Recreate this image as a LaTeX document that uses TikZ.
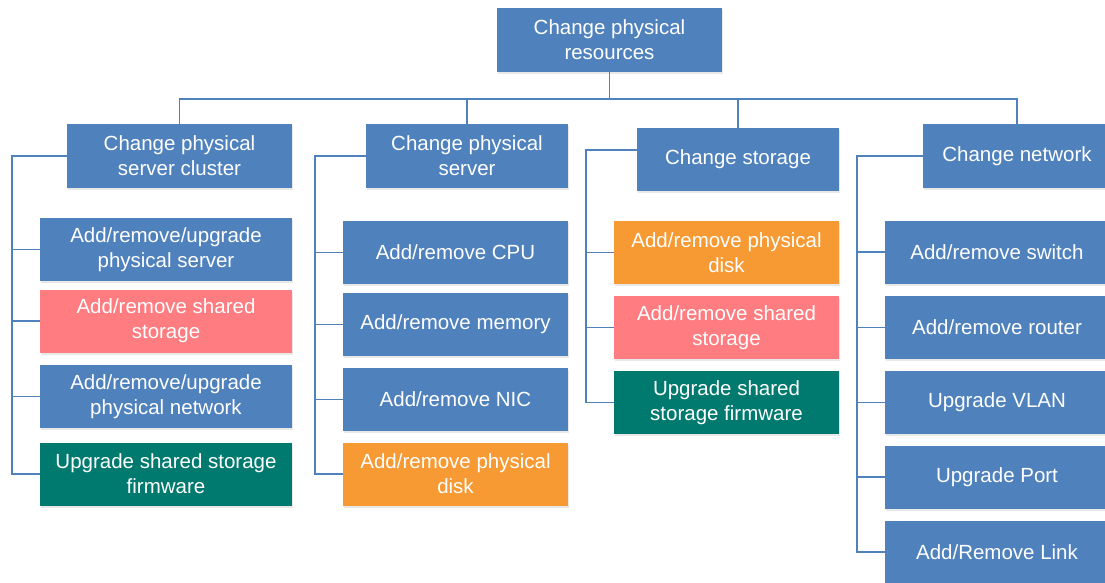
\documentclass[tikz,border=0pt]{standalone}
\usepackage{fontspec}
\setmainfont{Liberation Sans}
\usetikzlibrary{shadows}
\definecolor{boxblue}{HTML}{4F81BD}
\definecolor{boxpink}{HTML}{FF7C80}
\definecolor{boxorange}{HTML}{F79A33}
\definecolor{boxteal}{HTML}{007A6E}
\begin{document}
\begin{tikzpicture}
    [x=1pt,y=-1pt,
     box/.style={rectangle,fill=boxblue,text=white,align=center,inner sep=0pt,
       minimum height=63pt,font=\fontsize{20.5}{25}\selectfont,
       drop shadow={opacity=0.18,shadow xshift=1pt,shadow yshift=-2pt}},
     pinkbox/.style={box,fill=boxpink},
     orangebox/.style={box,fill=boxorange},
     tealbox/.style={box,fill=boxteal},
     link/.style={draw=boxblue,line width=1.5pt}]
    \useasboundingbox (0,0) rectangle (1105,583);
    % top
    \node (top) at (609.5, 40) [box,minimum width=225pt,minimum height=64pt] {Change physical\\resources};
    \node (cat1) at (179.5, 156) [box,minimum width=225pt,minimum height=64pt] {Change physical\\server cluster};
    \node (cat2) at (467, 156) [box,minimum width=202pt,minimum height=64pt] {Change physical\\server};
    \node (cat3) at (738, 159.5) [box,minimum width=202pt] {Change storage};
    \node (cat4) at (1017, 156) [box,minimum width=188pt,minimum height=64pt] {Change network};
    % cluster
    \node (c11) at (166, 249.5) [box,minimum width=252pt] {Add/remove/upgrade\\physical server};
    \node (c12) at (166, 321) [pinkbox,minimum width=252pt] {Add/remove shared\\storage};
    \node (c13) at (166, 396.5) [box,minimum width=252pt] {Add/remove/upgrade\\physical network};
    \node (c14) at (166, 474) [tealbox,minimum width=252pt] {Upgrade shared storage\\firmware};
    % server
    \node (c21) at (455.5, 252.5) [box,minimum width=225pt] {Add/remove CPU};
    \node (c22) at (455.5, 324.5) [box,minimum width=225pt] {Add/remove memory};
    \node (c23) at (455.5, 399.5) [box,minimum width=225pt] {Add/remove NIC};
    \node (c24) at (455.5, 474) [orangebox,minimum width=225pt] {Add/remove physical\\disk};
    % storage
    \node (c31) at (726.5, 252.5) [orangebox,minimum width=225pt] {Add/remove physical\\disk};
    \node (c32) at (726.5, 327.5) [pinkbox,minimum width=225pt] {Add/remove shared\\storage};
    \node (c33) at (726.5, 402.5) [tealbox,minimum width=225pt] {Upgrade shared\\storage firmware};
    % network
    \node (c41) at (997, 252) [box,minimum width=224pt] {Add/remove switch};
    \node (c42) at (997, 327.5) [box,minimum width=224pt] {Add/remove router};
    \node (c43) at (997, 402.5) [box,minimum width=224pt] {Upgrade VLAN};
    \node (c44) at (997, 477) [box,minimum width=224pt] {Upgrade Port};
    \node (c45) at (997, 552) [box,minimum width=224pt] {Add/Remove Link};
    \coordinate (bus) at (609.5, 99);
    \coordinate (r1) at (12, 156);
    \coordinate (r2) at (315, 156);
    \coordinate (r3) at (586, 150);
    \coordinate (r4) at (857, 156);
    \draw [link] (top) -- (bus);
    \draw [link] (cat1.north) |- (bus) -| (cat4.north);
    \draw [link] (bus) -| (cat2.north);
    \draw [link] (bus) -| (cat3.north);
    \draw [link] (cat1.west) -- (r1) |- (c14.west);
    \draw [link] (cat2.west) -- (r2) |- (c24.west);
    \draw [link] (cat3.west |- r3) -- (r3) |- (c33.west);
    \draw [link] (cat4.west) -- (r4) |- (c45.west);
    \foreach \n in {c11,c12,c13} \draw [link] (\n.west) -- (\n.west -| r1);
    \foreach \n in {c21,c22,c23} \draw [link] (\n.west) -- (\n.west -| r2);
    \foreach \n in {c31,c32} \draw [link] (\n.west) -- (\n.west -| r3);
    \foreach \n in {c41,c42,c43,c44} \draw [link] (\n.west) -- (\n.west -| r4);
  \end{tikzpicture}
\end{document}
